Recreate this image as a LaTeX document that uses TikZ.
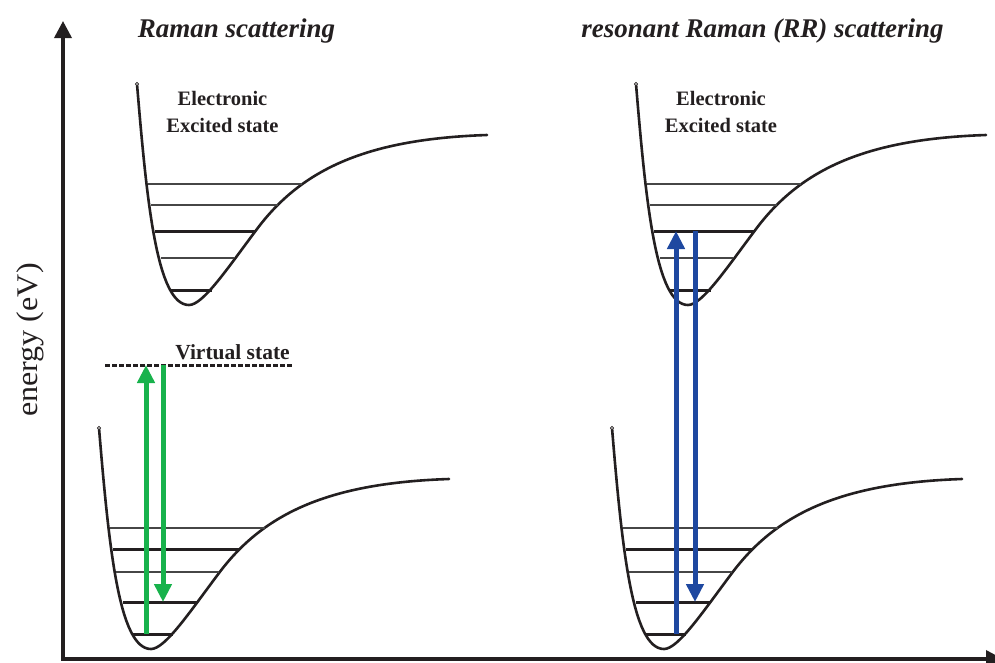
\documentclass[tikz,border=0pt]{standalone}
\usepackage{fontspec}
\setmainfont{Liberation Serif}
\usetikzlibrary{arrows.meta}
\definecolor{ink}{RGB}{35,31,32}
\definecolor{levelgray}{RGB}{70,70,70}
\definecolor{ramangreen}{RGB}{24,178,76}
\definecolor{rrblue}{RGB}{30,72,160}
\begin{document}
\begin{tikzpicture}[x=1pt,y=-1pt,
  pes/.style={draw=ink,line width=2.6pt,line cap=round,line join=round},
  thinlvl/.style={draw=levelgray,line width=1.3pt},
  thicklvl/.style={draw=ink,line width=3pt},
  axis/.style={draw=ink,line width=3.5pt,-{Triangle[length=17pt,width=17pt]}},
  transition/.style={line width=5pt,-{Triangle[length=18pt,width=17pt]}},
  title/.style={text=ink,font=\fontsize{27}{32}\selectfont\bfseries\itshape,anchor=base,inner sep=0pt},
  statelabel/.style={text=ink,font=\fontsize{20.5}{25}\selectfont\bfseries,anchor=base,inner sep=0pt},
  potential/.pic={
    \draw[pes] (0,0) .. controls (10,120) and (20,221) .. (52,221)
                     .. controls (66,221) and (90,185) .. (120,145)
                     .. controls (165,85) and (230,55) .. (350,51);
    \draw[ink,line width=0.7pt,fill=white] (0,0) circle (1.6);
  },
  excited/.pic={
    \pic {potential};
    \draw[thinlvl] (11,100) -- (165,100);
    \draw[thinlvl] (14,121) -- (141,121);
    \draw[thicklvl] (18,147) -- (118,147);
    \draw[thinlvl] (24,174) -- (97,174);
    \draw[thicklvl] (34,206) -- (75,206);
  },
  ground/.pic={
    \pic {potential};
    \draw[thinlvl] (11,100) -- (166,100);
    \draw[thicklvl] (14,121) -- (141,121);
    \draw[thinlvl] (17,144) -- (120,144);
    \draw[thicklvl] (24,174) -- (98,174);
    \draw[thicklvl] (34,206) -- (74,206);
  }]
\useasboundingbox (0,0) rectangle (995,662);

% axes
\coordinate (origin) at (63,659);
\coordinate (ytop) at (63,21);
\coordinate (xend) at (1003,659);
\draw[axis] (origin) -- (ytop);
\draw[axis] ([xshift=-1.7pt]origin) -- (xend);
\node[text=ink,rotate=90,font=\fontsize{30}{34}\selectfont] (ylabel) at (30,340) {\scalebox{1.07}[1]{energy (eV)}};

% titles
\node[title] (t1) at (236.5,37) {Raman scattering};
\node[title] (t2) at (762.5,37) {resonant Raman (RR) scattering};

% potential energy curves
\pic at (137,84) {excited};
\pic at (636,84) {excited};
\pic at (99,428) {ground};
\pic at (612,428) {ground};

\node[statelabel] (e1a) at (222.5,105) {Electronic};
\node[statelabel] (e1b) at (222.5,132) {Excited state};
\node[statelabel] (e2a) at (721,105) {Electronic};
\node[statelabel] (e2b) at (721,132) {Excited state};

% virtual state
\coordinate (vsl) at (105,365);
\coordinate (vsr) at (292,365);
\draw[ink,line width=3pt,dash pattern=on 5pt off 2pt] (vsl) -- (vsr);
\node[statelabel,font=\fontsize{21.5}{25}\selectfont\bfseries] (vs) at (232.5,359) {Virtual state};

% Raman transitions
\coordinate (g0a) at (146,634);
\coordinate (v0a) at (146,365);
\coordinate (v0b) at (163,365);
\coordinate (g1b) at (163,602);
\draw[transition,ramangreen] (g0a) -- (v0a);
\draw[transition,ramangreen] (v0b) -- (g1b);

% resonant Raman transitions
\coordinate (g0c) at (676,634);
\coordinate (e2c) at (676,231);
\coordinate (e2d) at (695,231);
\coordinate (g1d) at (695,602);
\draw[transition,rrblue] (g0c) -- (e2c);
\draw[transition,rrblue] (e2d) -- (g1d);
\end{tikzpicture}
\end{document}
